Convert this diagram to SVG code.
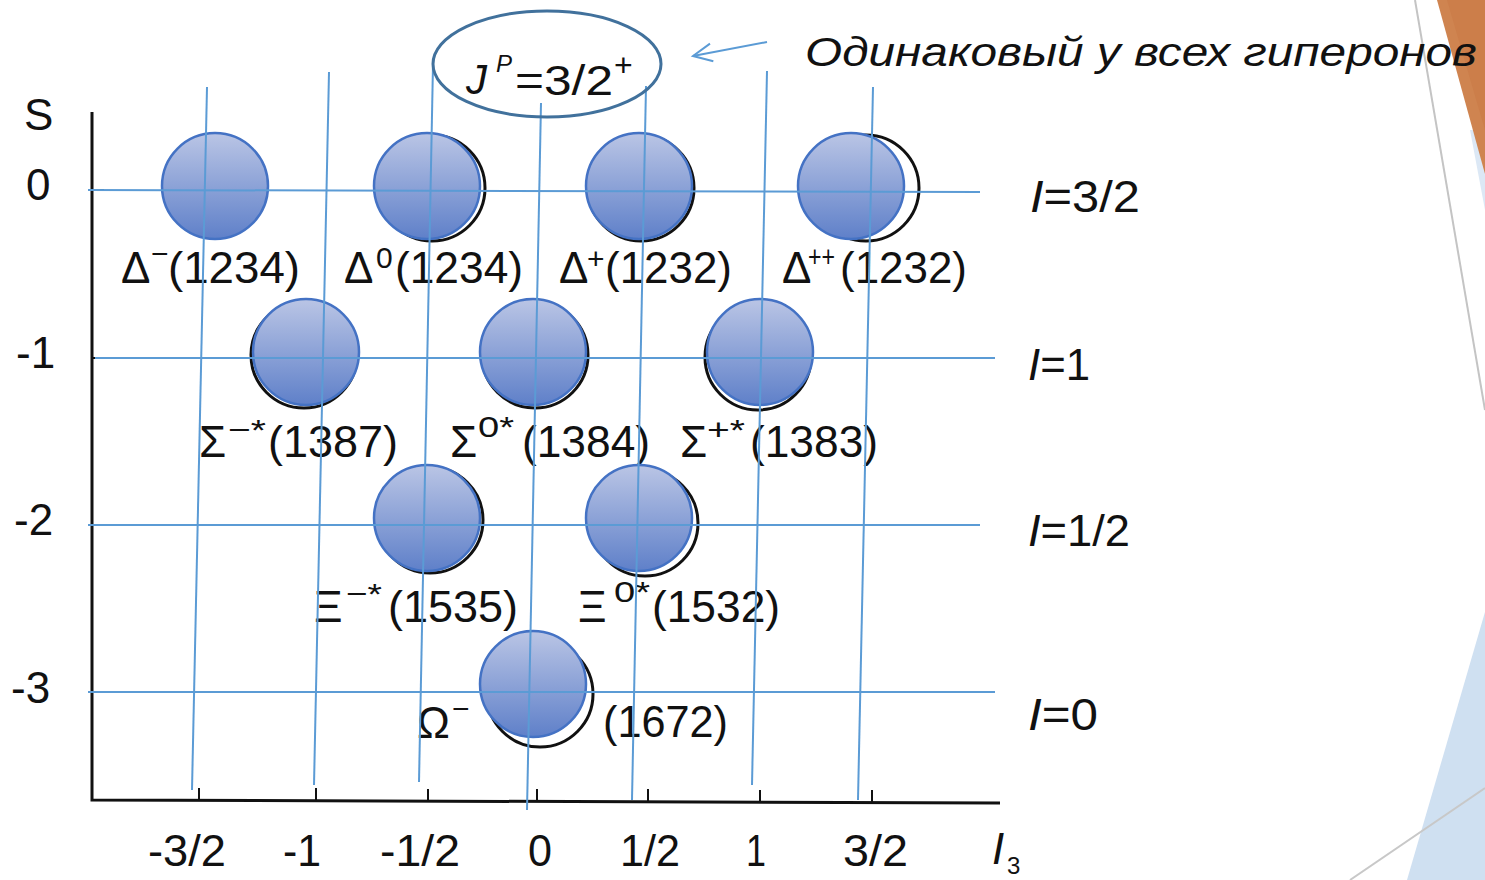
<svg xmlns="http://www.w3.org/2000/svg" width="1485" height="880" viewBox="0 0 1485 880">
<style>
  text { font-family: "Liberation Sans", Arial, sans-serif; fill: #111; }
  .lab { font-size: 44px; }
  .sup { font-size: 30px; }
  .it { font-style: italic; }
  .grid { stroke: #5b9bd5; stroke-width: 2; fill: none; }
  .axis { stroke: #111; stroke-width: 3; fill: none; }
  .tick { stroke: #111; stroke-width: 2; }
  .ball { fill: url(#g); stroke: #4472c4; stroke-width: 2.5; }
  .ghost { fill: #fff; stroke: #111; stroke-width: 3; }
</style>
<defs>
  <linearGradient id="g" x1="0" y1="0" x2="0" y2="1">
    <stop offset="0" stop-color="#bac5e5"/>
    <stop offset="1" stop-color="#5f80c9"/>
  </linearGradient>
  <marker id="ah" markerWidth="24" markerHeight="24" refX="20" refY="12" orient="auto" markerUnits="userSpaceOnUse">
    <path d="M1,3 L20,12 L1,21" fill="none" stroke="#5b9bd5" stroke-width="2"/>
  </marker>
</defs>
<rect width="1485" height="880" fill="#fff"/>

<!-- decoration on right edge -->
<g id="decor">
  <polygon points="1470,130 1485,130 1485,210" fill="#dce8f5"/>
  <polygon points="1437,0 1485,0 1485,174" fill="#cf8450"/>
  <polygon points="1447,0 1485,0 1485,130" fill="#c97a46" opacity="0.6"/>
  <line x1="1415" y1="0" x2="1485" y2="410" stroke="#c4c4c4" stroke-width="2"/>
  <polygon points="1485,612 1485,880 1407,880" fill="#cfe0f1"/>
  <line x1="1350" y1="880" x2="1485" y2="788" stroke="#c8c8c8" stroke-width="2"/>
</g>

<!-- axes -->
<g id="axes">
  <path class="axis" d="M92,112 L92,800 L1000,803"/>
  <line class="tick" x1="92" y1="190" x2="104" y2="190"/>
  <line class="tick" x1="92" y1="358" x2="104" y2="358"/>
  <line class="tick" x1="92" y1="525" x2="104" y2="525"/>
  <line class="tick" x1="92" y1="692" x2="104" y2="692"/>
  <line class="tick" x1="199" y1="800" x2="199" y2="788"/>
  <line class="tick" x1="316" y1="800" x2="316" y2="788"/>
  <line class="tick" x1="428" y1="801" x2="428" y2="789"/>
  <line class="tick" x1="537" y1="801" x2="537" y2="789"/>
  <line class="tick" x1="648" y1="801" x2="648" y2="789"/>
  <line class="tick" x1="760" y1="802" x2="760" y2="790"/>
  <line class="tick" x1="872" y1="802" x2="872" y2="790"/>
  <text class="lab" x="24" y="130">S</text>
  <text class="lab" x="26" y="200">0</text>
  <text class="lab" x="16" y="368">-1</text>
  <text class="lab" x="14" y="535">-2</text>
  <text class="lab" x="11" y="703">-3</text>
  <text class="lab" x="148" y="866" textLength="78" lengthAdjust="spacingAndGlyphs">-3/2</text>
  <text class="lab" x="283" y="866" textLength="38" lengthAdjust="spacingAndGlyphs">-1</text>
  <text class="lab" x="380" y="866" textLength="80" lengthAdjust="spacingAndGlyphs">-1/2</text>
  <text class="lab" x="528" y="866" textLength="24" lengthAdjust="spacingAndGlyphs">0</text>
  <text class="lab" x="620" y="866" textLength="60" lengthAdjust="spacingAndGlyphs">1/2</text>
  <text class="lab" x="746" y="866" textLength="20" lengthAdjust="spacingAndGlyphs">1</text>
  <text class="lab" x="843" y="866" textLength="65" lengthAdjust="spacingAndGlyphs">3/2</text>
  <text class="lab it" x="992" y="864">I</text>
  <text x="1007" y="874" style="font-size:24px">3</text>
</g>

<!-- isospin labels -->
<g id="isospin">
  <text class="lab" x="1030" y="212" textLength="110" lengthAdjust="spacingAndGlyphs"><tspan class="it">I</tspan>=3/2</text>
  <text class="lab" x="1028" y="380" textLength="62" lengthAdjust="spacingAndGlyphs"><tspan class="it">I</tspan>=1</text>
  <text class="lab" x="1028" y="546" textLength="102" lengthAdjust="spacingAndGlyphs"><tspan class="it">I</tspan>=1/2</text>
  <text class="lab" x="1028" y="730" textLength="70" lengthAdjust="spacingAndGlyphs"><tspan class="it">I</tspan>=0</text>
</g>

<!-- particles -->
<g id="delta-minus">
  <circle class="ball" cx="215" cy="186" r="53"/>
  <text class="lab" x="121" y="283">Δ</text>
  <text class="sup" x="151" y="264">−</text>
  <text class="lab" x="168" y="283" textLength="132" lengthAdjust="spacingAndGlyphs">(1234)</text>
</g>
<g id="delta-zero">
  <circle class="ghost" cx="432" cy="188" r="53"/>
  <circle class="ball" cx="427" cy="186" r="53"/>
  <text class="lab" x="344" y="283">Δ</text>
  <text class="sup" x="376" y="268">0</text>
  <text class="lab" x="395" y="283" textLength="128" lengthAdjust="spacingAndGlyphs">(1234)</text>
</g>
<g id="delta-plus">
  <circle class="ghost" cx="641" cy="188" r="53"/>
  <circle class="ball" cx="639" cy="186" r="53"/>
  <text class="lab" x="559" y="283">Δ</text>
  <text class="sup" x="587" y="269">+</text>
  <text class="lab" x="605" y="283" textLength="127" lengthAdjust="spacingAndGlyphs">(1232)</text>
</g>
<g id="delta-plusplus">
  <circle class="ghost" cx="866" cy="188" r="53"/>
  <circle class="ball" cx="851" cy="186" r="53"/>
  <text class="lab" x="782" y="283">Δ</text>
  <text class="sup" x="808" y="267" textLength="27" lengthAdjust="spacingAndGlyphs">++</text>
  <text class="lab" x="840" y="283" textLength="127" lengthAdjust="spacingAndGlyphs">(1232)</text>
</g>
<g id="sigma-minus">
  <circle class="ghost" cx="304" cy="355" r="53"/>
  <circle class="ball" cx="306" cy="352" r="53"/>
  <text class="lab" x="199" y="457">Σ</text>
  <text class="sup" x="228" y="440" textLength="38" lengthAdjust="spacingAndGlyphs">−*</text>
  <text class="lab" x="268" y="457" textLength="130" lengthAdjust="spacingAndGlyphs">(1387)</text>
</g>
<g id="sigma-zero">
  <circle class="ghost" cx="535" cy="355" r="53"/>
  <circle class="ball" cx="533" cy="352" r="53"/>
  <text class="lab" x="450" y="457">Σ</text>
  <text class="sup" x="478" y="437" textLength="36" lengthAdjust="spacingAndGlyphs">0*</text>
  <text class="lab" x="522" y="457" textLength="128" lengthAdjust="spacingAndGlyphs">(1384)</text>
</g>
<g id="sigma-plus">
  <circle class="ghost" cx="758" cy="357" r="53"/>
  <circle class="ball" cx="760" cy="352" r="53"/>
  <text class="lab" x="680" y="457">Σ</text>
  <text class="sup" x="707" y="440" textLength="38" lengthAdjust="spacingAndGlyphs">+*</text>
  <text class="lab" x="750" y="457" textLength="128" lengthAdjust="spacingAndGlyphs">(1383)</text>
</g>
<g id="xi-minus">
  <circle class="ghost" cx="430" cy="520" r="53"/>
  <circle class="ball" cx="427" cy="518" r="53"/>
  <text class="lab" x="314" y="622">Ξ</text>
  <text class="sup" x="346" y="604" textLength="36" lengthAdjust="spacingAndGlyphs">−*</text>
  <text class="lab" x="388" y="622" textLength="130" lengthAdjust="spacingAndGlyphs">(1535)</text>
</g>
<g id="xi-zero">
  <circle class="ghost" cx="645" cy="523" r="53"/>
  <circle class="ball" cx="639" cy="518" r="53"/>
  <text class="lab" x="578" y="622">Ξ</text>
  <text class="sup" x="614" y="602" textLength="36" lengthAdjust="spacingAndGlyphs">0*</text>
  <text class="lab" x="652" y="622" textLength="128" lengthAdjust="spacingAndGlyphs">(1532)</text>
</g>
<g id="omega-minus">
  <circle class="ghost" cx="540" cy="694" r="53"/>
  <circle class="ball" cx="533" cy="684" r="53"/>
  <text class="lab" x="417" y="738">Ω</text>
  <text class="sup" x="452" y="719">−</text>
  <text class="lab" x="603" y="737" textLength="125" lengthAdjust="spacingAndGlyphs">(1672)</text>
</g>

<!-- overlay grid -->
<g id="grid">
  <line class="grid" x1="88" y1="190" x2="980" y2="192"/>
  <line class="grid" x1="95" y1="358" x2="995" y2="358"/>
  <line class="grid" x1="88" y1="525" x2="980" y2="525"/>
  <line class="grid" x1="88" y1="692" x2="995" y2="692"/>
  <line class="grid" x1="207" y1="87" x2="192" y2="790"/>
  <line class="grid" x1="329" y1="72" x2="314" y2="785"/>
  <line class="grid" x1="433" y1="64" x2="419" y2="782"/>
  <line class="grid" x1="541" y1="103" x2="527" y2="810"/>
  <line class="grid" x1="646" y1="86" x2="632" y2="800"/>
  <line class="grid" x1="767" y1="71" x2="752" y2="785"/>
  <line class="grid" x1="873" y1="87" x2="858" y2="800"/>
</g>

<!-- spin-parity callout -->
<g id="jp">
  <ellipse cx="547" cy="64" rx="114" ry="53" fill="none" stroke="#41719c" stroke-width="3"/>
  <text class="lab it" x="466" y="94" style="font-size:42px">J</text>
  <text class="it" x="496" y="72" style="font-size:24px">P</text>
  <text class="lab" x="515" y="95" style="font-size:42px" textLength="98" lengthAdjust="spacingAndGlyphs">=3/2</text>
  <text x="614" y="76" style="font-size:32px">+</text>
</g>

<g id="connectors">
  <line x1="767" y1="42" x2="693" y2="56" stroke="#5b9bd5" stroke-width="2" marker-end="url(#ah)"/>
</g>

<g id="note">
  <text class="it" x="805" y="66" style="font-size:40px" textLength="672" lengthAdjust="spacingAndGlyphs">Одинаковый у всех гиперонов</text>
</g>
</svg>
